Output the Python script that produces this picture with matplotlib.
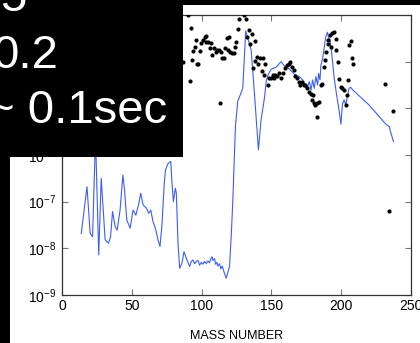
import matplotlib
matplotlib.use("Agg")
import matplotlib.pyplot as plt
from matplotlib.patches import Rectangle
import numpy as np

plt.rcParams['font.family'] = ['Liberation Sans', 'DejaVu Sans']
plt.rcParams['mathtext.fontset'] = 'custom'
plt.rcParams['mathtext.rm'] = 'Liberation Sans'
plt.rcParams['mathtext.it'] = 'Liberation Sans'
plt.rcParams['mathtext.bf'] = 'Liberation Sans'

# Blue curve: mass number vs log10(value)
line_A = [13.8, 17.9, 20.2, 21.9, 24.0, 26.3, 28.1, 30.9, 33.3, 34.8, 36.2, 38.1, 39.5,
          41.6, 43.6, 44.8, 46.4, 48.8, 50.9, 52.9, 55.0, 56.4, 58.1, 60.5, 62.1, 63.6,
          65.2, 66.9, 68.8, 70.2, 71.7, 73.1, 74.1, 76.0, 77.9, 78.8, 79.8, 81.2, 81.9,
          83.1, 84.3, 85.9, 87.4, 89.0, 90.2, 91.4, 92.6, 93.8, 95.0, 96.2, 97.4, 98.6,
          99.8, 100.9, 102.1, 103.3, 104.5, 105.7, 106.6, 107.4, 108.1, 109.3, 110.0,
          110.9, 111.6, 112.9, 113.8, 114.8, 116.0, 117.6, 120.0, 121.2, 122.4, 123.5, 124.3,
          125.9, 129.5, 131.6, 133.1, 135.5, 137.9, 140.7, 142.6, 145.0, 146.4, 147.4,
          149.8, 153.3, 156.9, 159.3, 162.9, 166.4, 170.0, 172.4, 174.3, 175.9, 177.1,
          178.4, 179.5, 180.7, 181.9, 183.1, 183.8, 184.8, 185.5, 186.7, 187.9, 189.0,
          190.2, 190.9, 191.9, 193.1, 195.0, 196.7, 198.6, 199.8, 200.9, 202.1, 203.3,
          204.5, 205.7, 206.9, 208.1, 220.0, 232.0, 234.3, 237.4]
line_log = [-7.68, -6.68, -7.68, -7.75, -5.6, -8.14, -6.5, -7.82, -7.89, -7.75, -7.21, -7.54, -7.61,
            -7.18, -6.43, -6.75, -7.39, -7.57, -7.18, -7.29, -7.04, -6.82, -7.07, -7.14, -7.25, -7.18,
            -7.43, -7.57, -7.82, -7.96, -7.46, -6.68, -6.32, -6.18, -6.14, -6.6, -7.0, -6.71, -6.82,
            -7.89, -8.43, -8.32, -8.07, -8.21, -8.30, -8.39, -8.28, -8.25, -8.33, -8.28, -8.26, -8.36,
            -8.30, -8.34, -8.28, -8.33, -8.27, -8.31, -8.22, -8.18, -8.26, -8.22, -8.34,
            -8.30, -8.38, -8.33, -8.44, -8.38, -8.50, -8.64, -8.39, -7.75, -6.96, -6.0, -5.36,
            -4.85, -4.57, -3.34, -3.5, -3.75, -4.7, -5.89, -5.25, -4.78, -4.4, -4.3,
            -4.16, -4.12, -4.0, -4.09, -4.16, -4.27, -4.32, -4.39, -4.5, -4.54, -4.43,
            -4.61, -4.39, -4.57, -4.32, -4.5, -4.25, -4.39, -4.07, -3.93, -3.68, -3.46,
            -3.37, -3.48, -3.52, -3.79, -4.36, -4.71, -5.07, -5.34, -4.91, -4.82, -4.93,
            -4.73, -4.57, -4.55, -4.6, -4.93, -5.34, -5.39, -5.71]

# Black dots
dot_A = [90.2, 92.1, 86.6, 91.4, 93.4, 93.8, 95.0, 95.7, 96.6, 97.4, 98.6, 99.8, 100.9,
         102.1, 103.4, 102.9, 104.5, 105.7, 106.9, 107.6, 108.8, 110.0, 110.9, 112.4, 113.6,
         112.9, 114.8, 115.9, 117.1, 118.1, 119.5, 118.8, 120.5, 121.6, 122.9, 123.6, 124.8,
         125.9, 127.1, 130.7, 131.9, 132.4, 133.8, 134.8, 135.9, 137.9, 137.1, 138.6, 139.8,
         140.7, 142.1, 143.8, 143.4, 144.5, 145.7, 147.4, 148.6, 149.8, 150.9, 152.1, 152.9,
         154.1, 155.2, 156.9, 158.1, 160.0, 160.9, 162.4, 163.6, 164.8, 165.9, 167.1, 168.1,
         169.5, 170.7, 171.9, 173.1, 174.3, 175.5, 176.6, 178.4, 179.5, 179.1, 180.2, 181.4,
         182.6, 183.8, 182.6, 185.5, 186.6, 187.4, 188.4, 189.1, 190.2, 190.9, 191.9, 193.4,
         194.5, 192.6, 196.2, 196.6, 197.9, 198.6, 199.8, 200.9, 202.1, 203.4, 204.5, 205.0,
         205.7, 206.9, 207.6, 208.6, 231.4, 237.4, 234.3]
dot_log = [-3.0, -3.27, -4.0, -4.41, -3.96, -3.77, -3.68, -3.54, -4.06, -4.04, -3.77, -3.61, -3.54,
           -3.48, -3.45, -3.57, -3.57, -3.71, -3.61, -3.86, -3.71, -3.79, -3.75, -3.75, -3.79,
           -4.88, -3.93, -3.93, -3.71, -3.50, -3.48, -3.75, -3.79, -3.82, -3.82, -3.68, -3.57,
           -3.29, -3.09, -3.0, -3.09, -3.48, -3.32, -3.62, -3.41, -3.55, -4.14, -3.98, -3.89,
           -4.04, -3.93, -3.93, -4.19, -4.29, -4.05, -4.50, -4.36, -4.34, -4.29, -4.36, -4.29,
           -4.31, -4.25, -4.34, -4.25, -4.14, -4.07, -4.04, -4.01, -4.11, -4.18, -4.31, -4.34,
           -4.43, -4.50, -4.43, -4.50, -4.50, -4.57, -4.64, -4.70, -4.71, -4.82, -4.88, -4.93,
           -4.89, -4.86, -5.18, -4.50, -4.48, -4.11, -3.96, -3.79, -3.62, -3.54, -3.43, -3.38,
           -3.36, -3.68, -3.52, -3.75, -4.01, -4.37, -4.54, -4.57, -4.61, -4.93, -4.71, -4.39,
           -3.64, -3.56, -3.93, -4.04, -4.48, -5.05, -7.19]

x_ticks = [0, 50, 100, 150, 200, 250]
y_exps = [-9, -8, -7, -6, -5, -4, -3]
overlay_lines = ["5", "0.2", "~ 0.1sec"]

W, H = 420, 343
fig = plt.figure(figsize=(W / 100, H / 100), dpi=100)
ax = fig.add_axes([62 / W, 1 - 295 / H, 349 / W, 280 / H])

ax.plot(line_A, 10.0 ** np.array(line_log), color='#3d5ef0', lw=0.8, zorder=2)
ax.scatter(dot_A, 10.0 ** np.array(dot_log), s=9, color='black', zorder=3, linewidths=0)

ax.set_yscale('log')
ax.set_xlim(0, 250)
ax.set_ylim(1e-9, 1e-3)
ax.set_xticks(x_ticks)
ax.set_xticklabels([str(t) for t in x_ticks])
ax.set_yticks([10.0 ** e for e in y_exps])
ax.set_yticklabels([r'$10^{%d}$' % e for e in y_exps])
ax.minorticks_off()
ax.tick_params(direction='in', top=True, right=True, length=4, width=0.8,
               color='#777777', labelsize=10, labelcolor='black')
ax.tick_params(axis='x', pad=3)
ax.tick_params(axis='y', pad=4)
for sp in ax.spines.values():
    sp.set_color('#333333')
    sp.set_linewidth(0.9)
ax.set_xlabel('MASS NUMBER', fontsize=9, labelpad=12)

# black overlay regions
def px_rect(x0, y0, x1, y1):
    return Rectangle((x0 / W, 1 - y1 / H), (x1 - x0) / W, (y1 - y0) / H,
                     transform=fig.transFigure, facecolor='black', edgecolor='none', zorder=10)

fig.add_artist(px_rect(0, 0, W, 5))
fig.add_artist(px_rect(0, 0, 183, 157))
fig.add_artist(px_rect(0, 0, 10, H))

text_pos = [(0, 11), (-8, 68), (-13, 123)]
for s, (tx, ty) in zip(overlay_lines, text_pos):
    fig.text(tx / W, 1 - ty / H, s, color='white', fontsize=34, va='baseline', ha='left',
             zorder=11)

fig.savefig('out.png', dpi=100)
